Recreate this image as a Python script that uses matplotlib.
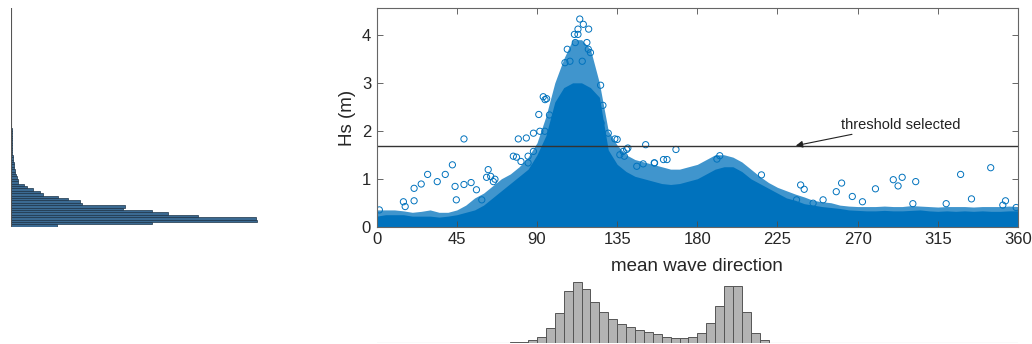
import numpy as np
import matplotlib
matplotlib.use("Agg")
import matplotlib.pyplot as plt

plt.rcParams['font.family'] = ['Liberation Sans', 'DejaVu Sans']

BLUE = '#0072BD'
AX_GREY = '#4d4d4d'

threshold = 1.69

# upper edge of the dense cloud (solid) and of its loose fringe, every 5 degrees
env_dir = np.arange(0, 361, 5)
core_hs = [0.22, 0.25, 0.25, 0.25, 0.22, 0.22, 0.22, 0.20, 0.22, 0.25,
           0.30, 0.35, 0.45, 0.60, 0.75, 0.90, 1.05, 1.20, 1.50, 1.90,
           2.60, 2.90, 3.00, 3.00, 2.90, 2.70, 1.60, 1.30, 1.15, 1.05,
           1.00, 0.95, 0.90, 0.88, 0.90, 0.95, 1.00, 1.10, 1.20, 1.25,
           1.25, 1.15, 1.00, 0.90, 0.80, 0.70, 0.60, 0.55, 0.48, 0.45,
           0.42, 0.40, 0.38, 0.35, 0.34, 0.33, 0.33, 0.34, 0.33, 0.33,
           0.34, 0.35, 0.33, 0.32, 0.33, 0.32, 0.33, 0.32, 0.33, 0.32,
           0.32, 0.33, 0.33]
outer_hs = [0.35, 0.35, 0.35, 0.33, 0.30, 0.32, 0.35, 0.30, 0.30, 0.35,
            0.45, 0.60, 0.70, 0.85, 1.00, 1.10, 1.25, 1.45, 1.75, 2.30,
            3.00, 3.50, 3.90, 3.90, 3.70, 3.00, 2.00, 1.70, 1.50, 1.40,
            1.35, 1.30, 1.25, 1.20, 1.20, 1.25, 1.30, 1.40, 1.50, 1.50,
            1.45, 1.35, 1.20, 1.05, 0.92, 0.82, 0.75, 0.68, 0.62, 0.55,
            0.52, 0.50, 0.45, 0.43, 0.42, 0.42, 0.42, 0.43, 0.42, 0.42,
            0.44, 0.43, 0.42, 0.41, 0.42, 0.42, 0.42, 0.41, 0.42, 0.42,
            0.42, 0.43, 0.42]

# isolated records lying outside the dense cloud
out_dir = [1.5, 15, 16, 21, 21, 25, 28.6, 34, 38.5, 42.5, 44, 44.7, 49, 49, 53,
           56, 59, 62.6, 64, 65.5, 78.5, 79.5, 84, 81, 85, 88, 88, 91, 93.5,
           94.5, 95.4, 97, 91.6, 94.4, 114, 113, 116, 119, 111, 113, 111.5,
           118, 118.8, 120, 107, 105.7, 108.5, 115.4, 125.7, 127, 126, 130,
           133.7, 135, 138.4, 139, 141, 151, 149.6, 156, 161, 168, 163,
           192.6, 191, 216, 238, 240, 261, 258, 267, 280, 290, 295, 292.7,
           302.6, 327.8, 344.7, 333.9, 353, 272.7, 235.7, 250.6, 245, 301,
           319.7, 359, 351.5, 61.7, 66.4, 76.7, 85, 136.5, 140.3, 146, 155.8]
out_hs = [0.35, 0.52, 0.42, 0.80, 0.54, 0.89, 1.09, 0.94, 1.09, 1.29, 0.84,
          0.56, 1.83, 0.88, 0.92, 0.77, 0.56, 1.19, 1.05, 0.94, 1.45, 1.83,
          1.85, 1.36, 1.47, 1.57, 1.95, 2.34, 2.71, 2.65, 2.67, 2.33, 1.99,
          1.99, 4.33, 4.12, 4.22, 4.12, 4.01, 4.01, 3.84, 3.84, 3.70, 3.63,
          3.70, 3.42, 3.45, 3.45, 2.95, 2.53, 2.16, 1.95, 1.83, 1.82, 1.57,
          1.47, 1.64, 1.71, 1.31, 1.33, 1.40, 1.61, 1.40, 1.48, 1.41, 1.08,
          0.87, 0.78, 0.91, 0.73, 0.63, 0.79, 0.98, 1.03, 0.85, 0.94, 1.09,
          1.23, 0.58, 0.54, 0.52, 0.56, 0.56, 0.49, 0.48, 0.48, 0.40, 0.45,
          1.03, 0.99, 1.47, 1.33, 1.50, 1.61, 1.26, 1.33]

# direction histogram, 5 degree bins
dir_edges = np.arange(0, 360, 5)
dir_counts = [0.5] * 11 + [0.8, 1, 1, 1, 2, 2, 8, 18, 46, 90, 156, 183, 163,
              123, 93, 72, 56, 49, 40, 33, 26, 17, 16, 16, 19, 30, 61, 110,
              172, 172, 93, 30, 8, 1] + [0.5] * 27

# Hs histogram, 0.05 m bins
hs_edges = np.arange(0, 4.35, 0.05)
hs_counts = [46, 141, 246, 245, 187, 157, 141, 112, 114, 71, 69, 57, 47, 32,
             29, 22, 16, 13, 7, 7, 6, 5, 4, 4, 3, 2.5, 2.5, 2, 1.6, 1.5, 1.3,
             1.2, 1, 1, 1, 0.8, 0.8, 0.6, 0.6, 0.5, 0.5, 0.4, 0.4, 0.3, 0.3,
             0.2, 0.2, 0.2, 0.2, 0.2, 0.3, 0.2, 0.2, 0.2, 0.2, 0.2, 0.3, 0.2,
             0.2, 0.2, 0.2, 0.2, 0.2, 0.2, 0.2, 0.2, 0.2, 0.2, 0.2, 0.2, 0.2,
             0.2, 0.2, 0.2, 0.2, 0.2, 0.2, 0.2, 0.2, 0.2, 0.2, 0.2, 0.2, 0.2,
             0.2, 0.2, 0.2]
hs_counts = hs_counts[:len(hs_edges)]

fig = plt.figure(figsize=(10.32, 3.44), dpi=100)

# main scatter
ax = fig.add_axes([0.365, 0.341, 0.6214, 0.6343])
ax.fill_between(env_dir, 0, outer_hs, color=BLUE, alpha=0.75, lw=0)
ax.fill_between(env_dir, 0, core_hs, color=BLUE, lw=0)
ax.scatter(out_dir, out_hs, s=20, facecolors='none', edgecolors=BLUE,
           linewidths=0.7)
ax.axhline(threshold, color='#333333', lw=1.0)
ax.annotate('threshold selected', xy=(235.3, threshold), xytext=(260.5, 2.13),
            fontsize=10.5, color='#222222', va='center',
            arrowprops=dict(arrowstyle='-|>', color='#222222', lw=0.8,
                            mutation_scale=10, shrinkA=0, shrinkB=0))
ax.set_xlim(0, 360)
ax.set_ylim(0, 4.55)
ax.set_xticks(np.arange(0, 361, 45))
ax.set_yticks([0, 1, 2, 3, 4])
ax.tick_params(direction='in', length=4, width=0.6, colors=AX_GREY,
               labelcolor='#262626', labelsize=12, top=True, right=True,
               pad=4)
for sp in ax.spines.values():
    sp.set_color('#666666')
    sp.set_linewidth(0.8)
ax.set_xlabel('mean wave direction', fontsize=13.5, color='#262626',
              labelpad=8)
ax.set_ylabel('Hs (m)', fontsize=13.5, color='#262626', labelpad=4)

# marginal histogram of Hs, bars to the right
axl = fig.add_axes([0.0107, 0.341, 0.251, 0.6343])
axl.barh(hs_edges, hs_counts, height=0.05, align='edge', color='#3b6a92',
         edgecolor='#1c3348', linewidth=0.5)
axl.axvline(0, color='#555555', lw=0.8)
axl.set_ylim(0, 4.55)
axl.set_xlim(0, 259)
axl.axis('off')

# marginal histogram of direction
axb = fig.add_axes([0.365, 0.0029, 0.6214, 0.2035])
axb.bar(dir_edges, dir_counts, width=5, align='edge', color='#b3b3b3',
        edgecolor='#555555', linewidth=0.7)
axb.axhline(0, color='#aaaaaa', lw=0.8)
axb.set_xlim(0, 360)
axb.set_ylim(0, 210)
axb.axis('off')

fig.savefig('out.png', dpi=100)
